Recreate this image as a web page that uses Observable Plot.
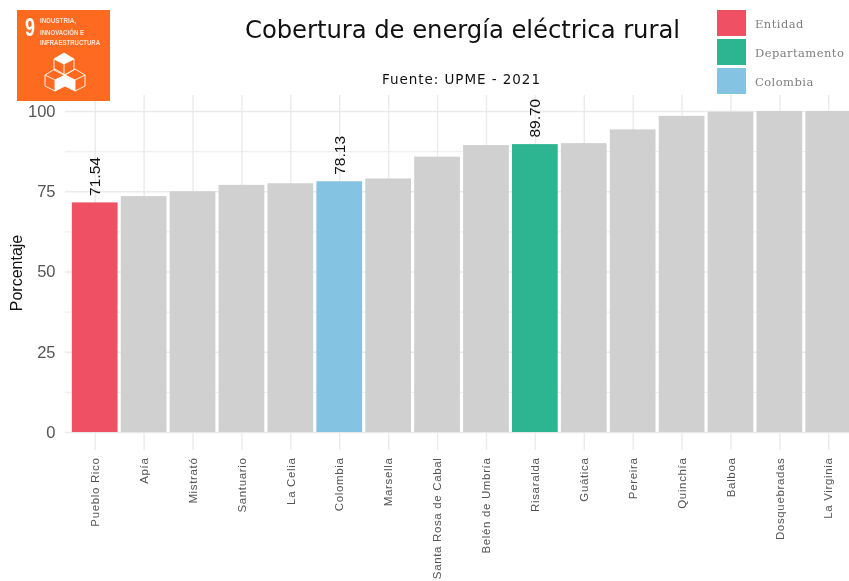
<!DOCTYPE html>
<html lang="es">
<head>
<meta charset="utf-8">
<script src="https://cdn.jsdelivr.net/npm/d3@7"></script>
<script src="https://cdn.jsdelivr.net/npm/@observablehq/plot@0.6"></script>
<style>
  html, body { margin: 0; padding: 0; background: #fff; overflow: hidden; }
  #page { position: relative; width: 849px; height: 581px; overflow: hidden; filter: blur(0.4px); }
  #page svg.chart { position: absolute; left: 0; top: 0; overflow: hidden; }
  .abs { position: absolute; white-space: nowrap; }
  #title { left: 245px; top: 15px; font: 24.3px "DejaVu Sans", sans-serif; color: #111; letter-spacing: -0.05px; }
  #subtitle { left: 382px; top: 71px; font: 13.5px "DejaVu Sans", sans-serif; color: #111; letter-spacing: 0.95px; }
  .swatch { left: 717px; width: 29px; height: 26px; }
  .legend { left: 755px; font: 11.5px "DejaVu Serif", serif; color: #808080; letter-spacing: 0.45px; }
  #logo { left: 17px; top: 10px; }
</style>
</head>
<body>
<div id="page"></div>
<script>
const categories = ["Pueblo Rico","Apía","Mistrató","Santuario","La Celia","Colombia","Marsella","Santa Rosa de Cabal","Belén de Umbría","Risaralda","Guática","Pereira","Quinchía","Balboa","Dosquebradas","La Virginia"];
const values = [71.54,73.5,75,77,77.5,78.13,79,85.8,89.4,89.70,90,94.3,98.5,99.8,100,100];
const kinds = ["Entidad","","","","","Colombia","","","","Departamento","","","","","",""];
const labels = ["71.54","","","","","78.13","","","","89.70","","","","","",""];
const legendNames = ["Entidad","Departamento","Colombia"];
const legendColors = ["#EF5064","#2DB592","#85C3E3"];
const otherColor = "#D0D0D0";
const majorTicks = [0,25,50,75,100];
const minorTicks = [12.5,37.5,62.5,87.5];
const titleText = "Cobertura de energía eléctrica rural";
const subtitleText = "Fuente: UPME - 2021";

const rows = categories.map((c,i)=>({name:c,value:values[i],kind:kinds[i],label:labels[i]}));
const colorOf = k => { const i = legendNames.indexOf(k); return i<0 ? otherColor : legendColors[i]; };

const chart = Plot.plot({
  width: 849, height: 581,
  marginLeft: 65, marginRight: 0, marginTop: 95, marginBottom: 131,
  style: {background:"transparent"},
  x: {domain: categories, range:[65,858], round:false, paddingInner: 0.065, paddingOuter: 0.14, label: null},
  y: {domain: [-5.6,105], label: null},
  marks: [
    Plot.ruleY(minorTicks,{stroke:"#efefef",strokeWidth:1.4}),
    Plot.ruleY(majorTicks,{stroke:"#ebebeb",strokeWidth:1.6}),
    Plot.ruleX(categories,{x:d=>d,stroke:"#ebebeb",strokeWidth:1.4}),
    Plot.barY(rows,{x:"name",y:"value",fill:d=>colorOf(d.kind)}),
    Plot.text(rows.filter(d=>d.label),{x:"name",y:"value",text:"label",rotate:-90,textAnchor:"start",dy:-7,fontSize:15.5,fontFamily:"Liberation Sans, sans-serif",fill:"#111"}),
    Plot.axisX({anchor:"bottom",tickSize:0,tickPadding:7,tickRotate:-90,fontSize:11.5,fontFamily:"Liberation Sans, sans-serif",color:"#555",label:null}),
    Plot.axisY({anchor:"left",ticks:majorTicks,tickSize:0,tickPadding:10,fontSize:16.5,fontFamily:"Liberation Sans, sans-serif",color:"#555",label:"Porcentaje",labelAnchor:"center",labelArrow:"none",labelOffset:55})
  ]
});
chart.classList.add("chart");
const page = document.getElementById("page");
page.appendChild(chart);

chart.querySelectorAll("text").forEach(t=>{
  if (t.textContent==="Porcentaje"){ t.setAttribute("font-size","16"); t.setAttribute("fill","#111"); }
  if (categories.includes(t.textContent)){ t.style.letterSpacing="0.65px"; }
});

function add(id,cls,text){
  const d=document.createElement("div");
  if(id) d.id=id;
  d.className="abs "+(cls||"");
  if(text) d.textContent=text;
  page.appendChild(d);
  return d;
}
add("title","",titleText);
add("subtitle","",subtitleText);
legendNames.forEach((n,i)=>{
  const s=add("", "swatch"); s.style.top=(10+i*29.2)+"px"; s.style.background=legendColors[i];
  const l=add("", "legend", n); l.style.top=(17+i*29)+"px";
});

// SDG 9 badge
const logo=add("logo","");
logo.innerHTML=`<svg width="93" height="91" viewBox="0 0 93 91" xmlns="http://www.w3.org/2000/svg">
<rect width="93" height="91" fill="#FD6A20"/>
<text transform="translate(8,26) scale(0.72,1)" font-family="Liberation Sans, sans-serif" font-weight="700" font-size="25" fill="#fff">9</text>
<g font-family="Liberation Sans, sans-serif" font-weight="700" font-size="6.4" fill="#fff" opacity="0.8">
<text x="23" y="13" textLength="36" lengthAdjust="spacingAndGlyphs">INDUSTRIA,</text>
<text x="23" y="24.5" textLength="44" lengthAdjust="spacingAndGlyphs">INNOVACIÓN E</text>
<text x="23" y="35" textLength="60" lengthAdjust="spacingAndGlyphs">INFRAESTRUCTURA</text></g>
<g fill="none" stroke="#fff" stroke-width="0.9" stroke-linejoin="round">
<path d="M37 49 L47 43 L57 49 L57 60 L47 65 L37 60 Z M37 49 L47 54 L57 49 M47 54 L47 65" />
<path d="M28 65 L38 59 L48 65 L48 76 L38 81 L28 76 Z M28 65 L38 70 L48 65 M38 70 L38 81"/>
<path d="M48 65 L58 59 L68 65 L68 76 L58 81 L48 76 Z M48 65 L58 70 L68 65 M58 70 L58 81"/>
</g>
<path d="M37 49 L47 43 L57 49 L47 54 Z" fill="#fff"/>
<path d="M38 70 L48 65 L48 76 L38 81 Z" fill="#fff"/>
<path d="M48 65 L58 70 L58 81 L48 76 Z" fill="#fff"/>
</svg>`;
</script>
</body>
</html>
